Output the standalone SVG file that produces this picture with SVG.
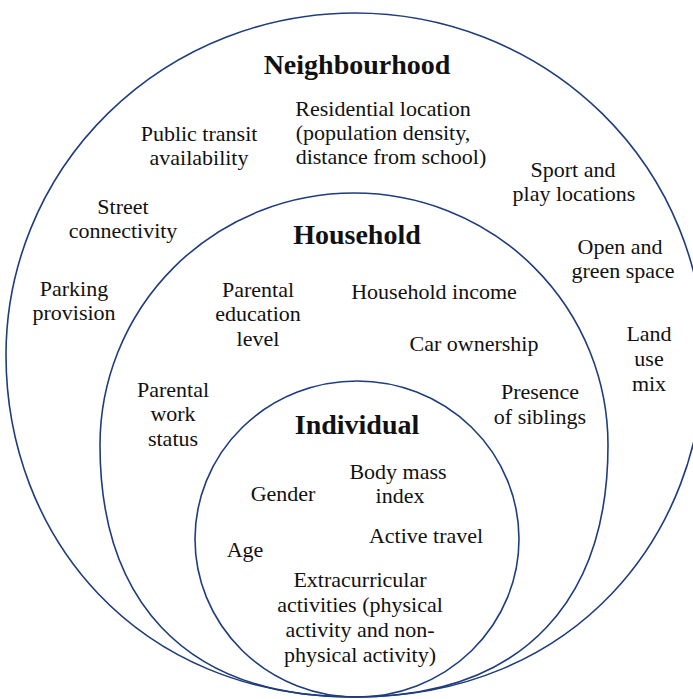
<svg xmlns="http://www.w3.org/2000/svg" width="693" height="699" viewBox="0 0 693 699">
<style>
.ring{fill:none;stroke:#1f3d7c;stroke-width:1.6}
text{font-family:"Liberation Serif","Times New Roman",serif;fill:#111;text-anchor:middle}
.t{font-size:22px}
.h{font-size:28px;font-weight:bold}
</style>
<rect width="693" height="699" fill="#fff"/>
<g id="neighbourhood">
<path class="ring" d="M6,355 A349,342 0 0 1 704,355 C704,535 575,697 355,697 C135,697 6,535 6,355 Z"/>
<text class="h" x="357" y="74">Neighbourhood</text>
<text class="t" x="383" y="116">Residential location</text>
<text class="t" x="383" y="140">(population density,</text>
<text class="t" x="391" y="164">distance from school)</text>
<text class="t" x="199" y="141">Public transit</text>
<text class="t" x="199" y="165">availability</text>
<text class="t" x="573" y="177">Sport and</text>
<text class="t" x="574" y="201">play locations</text>
<text class="t" x="123" y="214">Street</text>
<text class="t" x="123" y="238">connectivity</text>
<text class="t" x="620" y="254">Open and</text>
<text class="t" x="623" y="278">green space</text>
<text class="t" x="74" y="296">Parking</text>
<text class="t" x="74" y="320">provision</text>
<text class="t" x="649" y="341">Land</text>
<text class="t" x="649" y="366">use</text>
<text class="t" x="649" y="391">mix</text>
</g>
<g id="household">
<path class="ring" d="M100,445 A254,252 0 0 1 608,445 C608,595 529,697 354,697 C179,697 100,595 100,445 Z"/>
<text class="h" x="357" y="244">Household</text>
<text class="t" x="258" y="297">Parental</text>
<text class="t" x="258" y="321">education</text>
<text class="t" x="258" y="346">level</text>
<text class="t" x="434" y="299">Household income</text>
<text class="t" x="474" y="351">Car ownership</text>
<text class="t" x="173" y="397">Parental</text>
<text class="t" x="173" y="421">work</text>
<text class="t" x="173" y="446">status</text>
<text class="t" x="540" y="399">Presence</text>
<text class="t" x="540" y="424">of siblings</text>
</g>
<g id="individual">
<ellipse class="ring" cx="357" cy="539" rx="162" ry="158"/>
<text class="h" x="357" y="434">Individual</text>
<text class="t" x="398" y="479">Body mass</text>
<text class="t" x="400" y="503">index</text>
<text class="t" x="283" y="501">Gender</text>
<text class="t" x="426" y="543">Active travel</text>
<text class="t" x="245" y="557">Age</text>
<text class="t" x="360" y="587">Extracurricular</text>
<text class="t" x="360" y="612">activities (physical</text>
<text class="t" x="360" y="637">activity and non-</text>
<text class="t" x="360" y="662">physical activity)</text>
</g>
</svg>
